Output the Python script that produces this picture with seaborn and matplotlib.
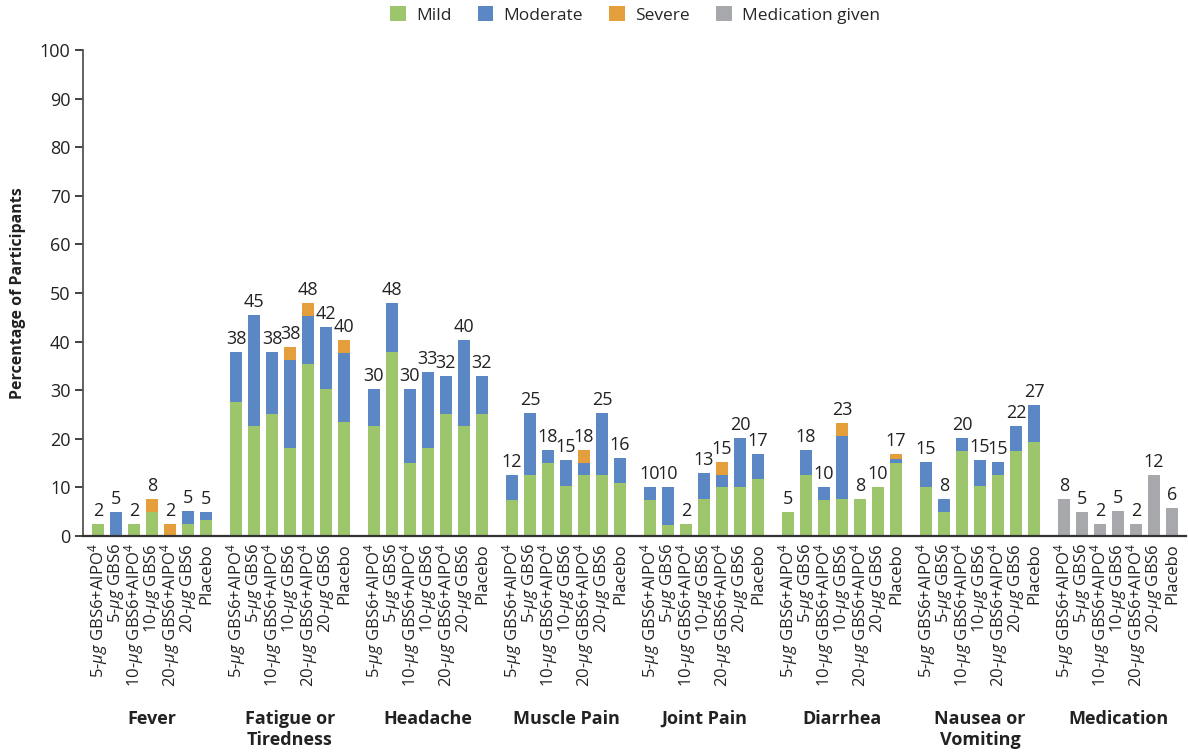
import numpy as np
import pandas as pd
import matplotlib
matplotlib.use("Agg")
import matplotlib.pyplot as plt
import matplotlib.transforms as mtransforms
from matplotlib.patches import Patch
import seaborn as sns

# ---------------- data ----------------
groups = ["Fever", "Fatigue or\nTiredness", "Headache", "Muscle Pain",
          "Joint Pain", "Diarrhea", "Nausea or\nVomiting", "Medication"]
arms = [r"5-$\mu g$ GBS6+AlPO$^4$", r"5-$\mu g$ GBS6",
        r"10-$\mu g$ GBS6+AlPO$^4$", r"10-$\mu g$ GBS6",
        r"20-$\mu g$ GBS6+AlPO$^4$", r"20-$\mu g$ GBS6", "Placebo"]

# per symptom group (7 arms each): mild, moderate, severe
mild = [
    [2.5, 0.0, 2.5, 5.0, 0.0, 2.5, 3.3],        # Fever
    [27.6, 22.7, 25.1, 18.1, 35.4, 30.2, 23.5],  # Fatigue
    [22.6, 37.9, 15.0, 18.1, 25.1, 22.6, 25.1],  # Headache
    [7.4, 12.5, 15.0, 10.3, 12.5, 12.5, 10.9],   # Muscle pain
    [7.4, 2.3, 2.5, 7.6, 10.1, 10.1, 11.7],      # Joint pain
    [4.9, 12.5, 7.4, 7.6, 7.6, 10.1, 15.0],      # Diarrhea
    [10.1, 4.9, 17.5, 10.3, 12.5, 17.5, 19.3],   # Nausea
]
moderate = [
    [0.0, 5.0, 0.0, 0.0, 0.0, 2.6, 1.7],
    [10.3, 22.8, 12.8, 18.1, 9.9, 12.8, 14.2],
    [7.6, 10.0, 15.2, 15.6, 7.8, 17.7, 7.8],
    [5.1, 12.8, 2.7, 5.3, 2.5, 12.8, 5.1],
    [2.7, 7.8, 0.0, 5.4, 2.4, 10.1, 5.2],
    [0.0, 5.2, 2.7, 13.0, 0.0, 0.0, 0.8],
    [5.1, 2.7, 2.7, 5.3, 2.7, 5.1, 7.6],
]
severe = [
    [0.0, 0.0, 0.0, 2.7, 2.5, 0.0, 0.0],
    [0.0, 0.0, 0.0, 2.7, 2.6, 0.0, 2.6],
    [0.0, 0.0, 0.0, 0.0, 0.0, 0.0, 0.0],
    [0.0, 0.0, 0.0, 0.0, 2.7, 0.0, 0.0],
    [0.0, 0.0, 0.0, 0.0, 2.7, 0.0, 0.0],
    [0.0, 0.0, 0.0, 2.6, 0.0, 0.0, 1.1],
    [0.0, 0.0, 0.0, 0.0, 0.0, 0.0, 0.0],
]
medication = [7.6, 4.9, 2.5, 5.1, 2.5, 12.5, 5.8]

labels = [
    [2, 5, 2, 8, 2, 5, 5],
    [38, 45, 38, 38, 48, 42, 40],
    [30, 48, 30, 33, 32, 40, 32],
    [12, 25, 18, 15, 18, 25, 16],
    [10, 10, 2, 13, 15, 20, 17],
    [5, 18, 10, 23, 8, 10, 17],
    [15, 8, 20, 15, 15, 22, 27],
    [8, 5, 2, 5, 2, 12, 6],
]

legend_names = ["Mild", "Moderate", "Severe", "Medication given"]
colors = ["#9DC56B", "#5B87C5", "#E59E3C", "#A7A8AB"]

# ---------------- layout helpers ----------------
GROUP_STEP = 7.667
rows = []
for g in range(len(groups)):
    for i in range(len(arms)):
        x = g * GROUP_STEP + i
        if g < 7:
            m, mo, s = mild[g][i], moderate[g][i], severe[g][i]
            rows.append(dict(x=x, g=g, i=i, mild=m, mm=m + mo, tot=m + mo + s, med=np.nan))
        else:
            rows.append(dict(x=x, g=g, i=i, mild=np.nan, mm=np.nan, tot=np.nan, med=medication[i]))
df = pd.DataFrame(rows)
df["label"] = [labels[r.g][r.i] for r in df.itertuples()]
df["top"] = df[["tot", "med"]].max(axis=1)

# ---------------- plot ----------------
sns.set_theme(style="white")
plt.rcParams["font.family"] = ["Open Sans", "DejaVu Sans"]
plt.rcParams["mathtext.fontset"] = "custom"
plt.rcParams["mathtext.rm"] = "Open Sans"
plt.rcParams["mathtext.it"] = "Open Sans:italic"
plt.rcParams["mathtext.bf"] = "Open Sans:bold"

fig = plt.figure(figsize=(11.88, 7.56), dpi=100)
ax = fig.add_axes([83 / 1188, 220 / 756, (1186 - 83) / 1188, 486 / 756])

sym = df[df.g < 7]
medf = df[df.g == 7]
bw = 0.67
for col, c in [("tot", colors[2]), ("mm", colors[1]), ("mild", colors[0])]:
    sns.barplot(data=sym, x="x", y=col, native_scale=True, width=bw, color=c,
                saturation=1, errorbar=None, linewidth=0, ax=ax)
sns.barplot(data=medf, x="x", y="med", native_scale=True, width=bw, color=colors[3],
            saturation=1, errorbar=None, linewidth=0, ax=ax)

for r in df.itertuples():
    ax.text(r.x, r.top + 0.8, str(r.label), ha="center", va="bottom",
            fontsize=13, color="#222222")

x0 = df.x.min()
ax.set_xlim(x0 - 0.83, x0 + (1186 - 98) / 18)
ax.set_ylim(0, 100)
ax.set_yticks(np.arange(0, 101, 10))
ax.tick_params(axis="y", labelsize=13, colors="#222222", length=6, width=1.2,
               direction="out", left=True, pad=3)
for t in ax.get_yticklabels():
    t.set_color("#222222")
ax.set_xticks(df.x.values)
ax.set_xticklabels([arms[i] for i in df.i], rotation=90, fontsize=12, color="#222222")
ax.tick_params(axis="x", length=0, pad=5)
ax.set_xlabel("")
ax.set_ylabel("Percentage of Participants", fontsize=11.5, fontweight="bold",
              color="#222222", labelpad=10)

for s in ["top", "right"]:
    ax.spines[s].set_visible(False)
ax.spines["left"].set_color("#555555")
ax.spines["left"].set_linewidth(1.3)
ax.spines["bottom"].set_color("#333333")
ax.spines["bottom"].set_linewidth(1.6)

trans = mtransforms.blended_transform_factory(ax.transData, ax.transAxes)
for g, name in enumerate(groups):
    cx = g * GROUP_STEP + 3
    ax.text(cx, -(710 - 536) / 486, name, transform=trans, ha="center", va="top",
            fontsize=13, fontweight="bold", color="#222222", linespacing=1.2)

handles = [Patch(facecolor=c, edgecolor="none") for c in colors]
fig.legend(handles, legend_names, loc="center", bbox_to_anchor=(635 / 1188, 1 - 15 / 756),
           ncol=4, frameon=False, fontsize=12.5, handlelength=0.9, handleheight=0.9,
           columnspacing=1.5, handletextpad=0.6)

fig.savefig("out.png", dpi=100)
